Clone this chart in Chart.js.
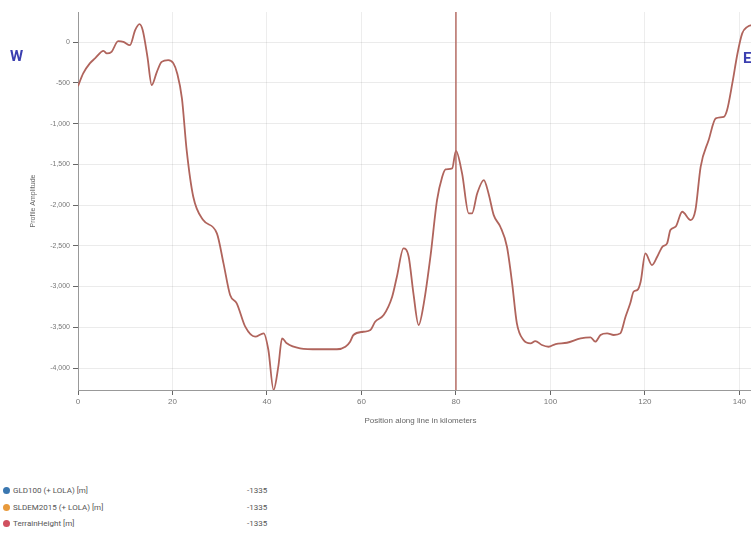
<!DOCTYPE html>
<html>
<head>
<meta charset="utf-8">
<script src="https://cdn.jsdelivr.net/npm/chart.js@4.4.1/dist/chart.umd.min.js"></script>
<style>
  body { margin: 0; background: #fff; overflow: hidden; width: 751px; height: 542px; position: relative; font-family: Roboto, "Noto Sans", sans-serif; }
  #wrap { position: absolute; left: 0; top: 0; width: 775px; height: 430px; }
  .dir { position: absolute; color: #3b3fb0; font-weight: bold; font-size: 15px; }
  #legend { position: absolute; left: 3px; top: 486px; font-size: 8px; color: #555; }
  .row { height: 16.5px; position: relative; white-space: nowrap; }
  .dot { display: inline-block; width: 7px; height: 7px; border-radius: 50%; margin-right: 3px; vertical-align: -1px; }
  .val { position: absolute; left: 244px; top: 0; }
</style>
</head>
<body>
<div id="wrap"><canvas id="myChart"></canvas></div>
<div class="dir" style="left:10px;top:47px">W</div>
<div class="dir" style="left:743px;top:49px">E</div>
<div id="legend"></div>
<script>
// distance along the profile line (km) and terrain height (m)
const xKm = [0, 1.1, 2.5, 3.6, 5.4, 6.1, 7.1, 8.5, 9.6, 11.0, 12.1, 13.0, 13.7, 14.7, 15.6, 16.7, 17.7, 19.1, 20.2, 21.0,
  22.0, 23.0, 24.4, 26.5, 29.4, 30.8, 32.2, 33.6, 35.4, 37.5, 39.3, 40.3, 41.4, 42.4, 43.2, 44.2, 47.0, 50.9, 54.8, 56.6,
  57.6, 58.3, 60.4, 61.9, 62.9, 64.7, 66.5, 67.5, 68.9, 70.0, 71.0, 72.1, 73.2, 74.6, 76.0, 77.1, 77.8, 79.2, 80.0, 81.3,
  82.7, 83.4, 84.5, 85.9, 86.9, 88.0, 89.4, 90.8, 91.9, 92.9, 94.3, 95.8, 96.8, 98.2, 99.6, 101.1, 103.5, 106.4, 108.5, 109.5,
  110.6, 112.0, 113.4, 114.8, 115.9, 116.9, 117.6, 118.4, 119.1, 120.1, 121.5, 122.6, 123.7, 124.7, 125.4, 126.5, 127.9, 129.7, 130.7, 131.8,
  133.5, 135.0, 136.7, 137.4, 138.5, 139.6, 140.6, 141.7, 142.6, 144];
const terrainHeight = [-540, -384, -261, -200, -107, -139, -119, 12, 4, -37, 147, 221, 147, -180, -528, -364, -242, -221, -261, -384,
  -690, -1325, -1898, -2184, -2347, -2715, -3104, -3206, -3493, -3616, -3574, -3779, -4270, -3984, -3636, -3697, -3758, -3770, -3770, -3739,
  -3677, -3595, -3555, -3534, -3432, -3350, -3125, -2880, -2531, -2634, -3084, -3472, -3206, -2634, -1939, -1653, -1562, -1550, -1335, -1611,
  -2102, -2102, -1857, -1693, -1857, -2123, -2266, -2512, -2961, -3452, -3656, -3697, -3669, -3718, -3739, -3706, -3690, -3636, -3624, -3677,
  -3595, -3575, -3595, -3575, -3371, -3206, -3064, -3043, -2941, -2593, -2736, -2634, -2512, -2470, -2307, -2266, -2082, -2184, -2061, -1530,
  -1202, -936, -917, -834, -507, -139, 107, 188, 209, 230];
const yTicks = [0, -500, -1000, -1500, -2000, -2500, -3000, -3500, -4000];
const cursorKm = 80;
const seriesNames = ["GLD100 (+ LOLA) [m]", "SLDEM2015 (+ LOLA) [m]", "TerrainHeight [m]"];
const seriesColors = ["#3a77b0", "#e89a3c", "#d0505f"];
const cursorValues = [-1335, -1335, -1335];

const pts = xKm.map((x, i) => ({x: x, y: terrainHeight[i]}));

const cursorLine = {
  id: "cursorLine",
  afterDatasetsDraw(chart) {
    const c = chart.ctx, a = chart.chartArea;
    const px = chart.scales.x.getPixelForValue(cursorKm);
    c.save();
    c.strokeStyle = "#b66e66";
    c.lineWidth = 1.5;
    c.beginPath();
    c.moveTo(px, a.top);
    c.lineTo(px, a.bottom);
    c.stroke();
    c.restore();
  }
};

new Chart("myChart", {
  type: "line",
  data: {
    datasets: [{
      label: "TerrainHeight [m]",
      data: pts,
      borderColor: "#b0645c",
      borderWidth: 1.8,
      pointRadius: 0,
      cubicInterpolationMode: "monotone",
      fill: false
    }]
  },
  options: {
    responsive: true,
    maintainAspectRatio: false,
    animation: false,
    layout: {padding: {left: 29, top: 12, right: 12, bottom: 0}},
    plugins: {legend: {display: false}, tooltip: {enabled: false}},
    scales: {
      x: {
        type: "linear",
        min: 0,
        max: 145,
        afterFit(s) { s.height = 40; },
        ticks: {stepSize: 20, color: "#777", font: {size: 8}, padding: 2},
        grid: {color: "rgba(0,0,0,0.07)", tickColor: "#666", tickLength: 5},
        border: {color: "#999"},
        title: {display: true, text: "Position along line in kilometers", color: "#666", font: {size: 8}, padding: {top: 2}}
      },
      y: {
        min: -4270,
        max: 370,
        afterFit(s) { s.width = 49; },
        afterBuildTicks(s) { s.ticks = yTicks.map(v => ({value: v})); },
        ticks: {color: "#777", font: {size: 7}, padding: 3},
        grid: {color: "rgba(0,0,0,0.08)", tickColor: "#666", tickLength: 5},
        border: {color: "#999"},
        title: {display: true, text: "Profile Amplitude", color: "#666", font: {size: 7}, padding: 0}
      }
    }
  },
  plugins: [cursorLine]
});

const legend = document.getElementById("legend");
seriesNames.forEach((name, i) => {
  const row = document.createElement("div");
  row.className = "row";
  row.innerHTML = '<span class="dot" style="background:' + seriesColors[i] + '"></span>' + name +
    '<span class="val">' + cursorValues[i] + '</span>';
  legend.appendChild(row);
});
</script>
</body>
</html>
